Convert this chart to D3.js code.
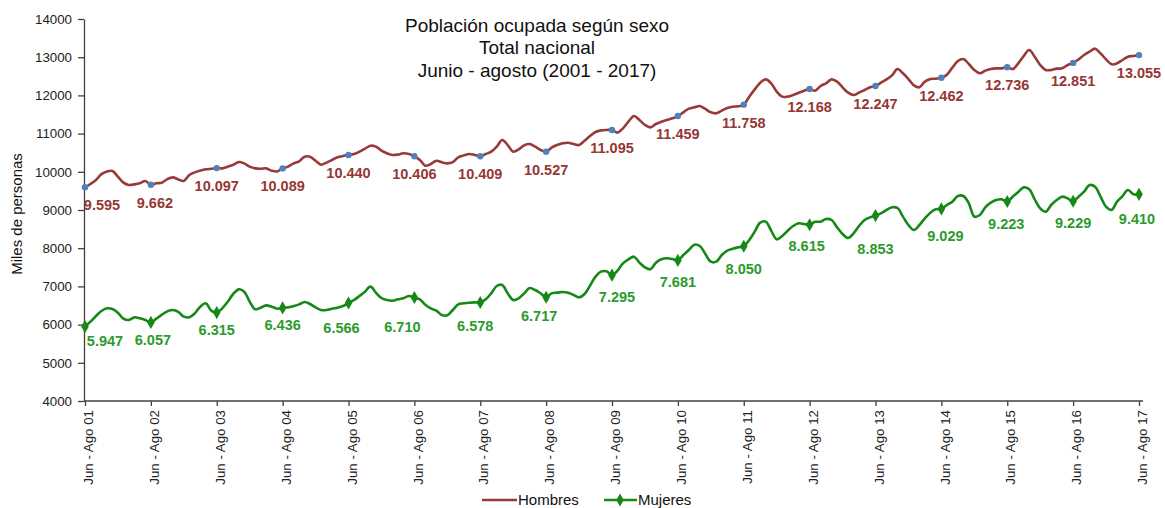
<!DOCTYPE html>
<html lang="es">
<head>
<meta charset="UTF-8">
<title>Población ocupada según sexo</title>
<script src="https://cdn.jsdelivr.net/npm/d3@7"></script>
<style>
    body { margin: 0; background: #fff; }
    svg { font-family: "Liberation Sans", Arial, sans-serif; }
    .axis path, .axis line { stroke: #404040; stroke-width: 1.3px; }
    .axis text { fill: #222; font-size: 13.3px; }
</style>
</head>
<body>
<div id="chart"></div>
<script>
// etiquetas del eje x (un trimestre movil jun-ago por año)
const tickLabels = ["Jun - Ago 01", "Jun - Ago 02", "Jun - Ago 03", "Jun - Ago 04", "Jun - Ago 05",
    "Jun - Ago 06", "Jun - Ago 07", "Jun - Ago 08", "Jun - Ago 09", "Jun - Ago 10", "Jun - Ago 11",
    "Jun - Ago 12", "Jun - Ago 13", "Jun - Ago 14", "Jun - Ago 15", "Jun - Ago 16", "Jun - Ago 17"];

const yTicks = [4000, 5000, 6000, 7000, 8000, 9000, 10000, 11000, 12000, 13000, 14000];

// miles de personas, trimestres moviles mensuales desde jun-ago 2001
const hombres = [
    9595, 9680, 9785, 9940, 10010, 10020, 9870, 9715, 9655, 9670, 9700, 9760,
    9662, 9700, 9715, 9810, 9855, 9800, 9760, 9915, 9985, 10030, 10065, 10080,
    10097, 10090, 10135, 10185, 10255, 10220, 10135, 10090, 10080, 10090, 10030, 10010,
    10089, 10135, 10220, 10275, 10395, 10395, 10290, 10185, 10240, 10310, 10380, 10415,
    10440, 10466, 10527, 10605, 10684, 10658, 10553, 10484, 10440, 10450, 10484, 10466,
    10406, 10310, 10160, 10205, 10290, 10250, 10220, 10255, 10380, 10430, 10466, 10440,
    10409, 10466, 10527, 10658, 10832, 10700, 10527, 10588, 10693, 10728, 10658, 10570,
    10527, 10632, 10700, 10745, 10762, 10728, 10700, 10815, 10937, 11042, 11085, 11095,
    11095, 11025, 11138, 11312, 11461, 11356, 11225, 11164, 11251, 11312, 11356, 11400,
    11459, 11557, 11653, 11688, 11723, 11644, 11557, 11531, 11600, 11670, 11705, 11714,
    11758, 11967, 12159, 12333, 12420, 12316, 12098, 11967, 11967, 12010, 12071, 12124,
    12168, 12124, 12246, 12316, 12420, 12360, 12211, 12071, 12010, 12071, 12141, 12211,
    12247, 12333, 12420, 12525, 12690, 12578, 12429, 12263, 12211, 12360, 12429, 12438,
    12462, 12543, 12726, 12900, 12953, 12822, 12665, 12578, 12648, 12690, 12708, 12708,
    12736, 12690, 12839, 13031, 13188, 13014, 12796, 12665, 12665, 12700, 12708, 12796,
    12851, 12944, 13057, 13145, 13223, 13100, 12944, 12813, 12840, 12927, 13014, 13031,
    13055
];

const mujeres = [
    5947, 6077, 6225, 6356, 6426, 6408, 6312, 6155, 6120, 6190, 6164, 6120,
    6057, 6155, 6260, 6347, 6382, 6330, 6208, 6190, 6295, 6470, 6557, 6365,
    6315, 6426, 6600, 6801, 6923, 6862, 6600, 6400, 6443, 6504, 6470, 6417,
    6436, 6452, 6487, 6530, 6592, 6539, 6452, 6382, 6382, 6417, 6443, 6487,
    6566, 6644, 6749, 6862, 6993, 6836, 6696, 6644, 6626, 6661, 6688, 6749,
    6710, 6661, 6522, 6426, 6365, 6251, 6243, 6382, 6530, 6557, 6574, 6583,
    6578, 6661, 6818, 7010, 7037, 6818, 6644, 6688, 6818, 6958, 6906, 6818,
    6717, 6818, 6836, 6853, 6836, 6775, 6714, 6801, 7019, 7255, 7386, 7394,
    7295, 7412, 7604, 7709, 7778, 7621, 7499, 7447, 7621, 7709, 7735, 7717,
    7681, 7822, 7953, 8093, 8058, 7848, 7647, 7647, 7822, 7935, 7988, 8023,
    8050, 8215, 8433, 8668, 8695, 8459, 8232, 8319, 8459, 8581, 8651, 8633,
    8615, 8690, 8695, 8764, 8738, 8546, 8372, 8267, 8389, 8581, 8738, 8808,
    8853, 8913, 9000, 9070, 9052, 8826, 8607, 8476, 8607, 8782, 8930, 9017,
    9029, 9131, 9218, 9366, 9366, 9175, 8826, 8869, 9070, 9192, 9262, 9279,
    9223, 9349, 9471, 9593, 9541, 9279, 9044, 8956, 9131, 9262, 9349, 9305,
    9229, 9349, 9480, 9654, 9610, 9349, 9087, 9000, 9218, 9366, 9523, 9410,
    9410
];

// ajuste de posicion de las etiquetas (px), como quedaron en el original
const hLabelDx = [17, 4, 0, 0, 0, 0, 0, 0, 0, 0, 0, 0, 0, 0, 0, 0, 0];
const mLabelDx = [20, 2, 0, 0, -7, -12, -5, -7, 5, 0, 0, -3, 0, 4, -1, 0, -2];
const mLabelDy = [14, 18, 17, 17, 25, 29, 23, 19, 22, 22, 23, 21, 33, 27, 22, 22, 25];

const W = 1165, H = 508;
const colH = "#983b38", colHLabel = "#953735", colHMark = "#4f81bd";
const colM = "#168816", colMLabel = "#2c9a2c";

const svg = d3.select("#chart").append("svg")
    .attr("width", W)
    .attr("height", H);

const x = d3.scaleLinear().domain([0, hombres.length - 1]).range([85, 1139]);
const y = d3.scaleLinear().domain([4000, 14000]).range([401, 19]);

// ejes
svg.append("g")
    .attr("class", "axis")
    .attr("transform", "translate(84,0)")
    .call(d3.axisLeft(y).tickValues(yTicks).tickSize(6).tickSizeOuter(0).tickPadding(6).tickFormat(d3.format("d")));

const xAxis = svg.append("g")
    .attr("class", "axis")
    .attr("transform", "translate(0,401)")
    .call(d3.axisBottom(x).tickValues(d3.range(0, hombres.length, 12)).tickSize(5).tickSizeOuter(0)
        .tickFormat((d, i) => tickLabels[i]));
xAxis.select(".domain").attr("d", "M84,0H1143");
xAxis.selectAll("text")
    .attr("text-anchor", "end")
    .attr("transform", "translate(3,9) rotate(-90)")
    .attr("x", 0).attr("y", 0).attr("dy", "0.35em");

// titulo eje y
svg.append("text")
    .attr("transform", "translate(17,214) rotate(-90)")
    .attr("text-anchor", "middle")
    .attr("dy", "0.35em")
    .style("font-size", "15px")
    .style("fill", "#111")
    .text("Miles de personas");

// titulo
const titulo = ["Población ocupada según sexo", "Total nacional", "Junio - agosto (2001 - 2017)"];
svg.append("g").selectAll("text")
    .data(titulo)
    .enter()
    .append("text")
    .attr("x", 537)
    .attr("y", (d, i) => 25 + i * 22.5)
    .attr("dy", "0.35em")
    .attr("text-anchor", "middle")
    .style("font-size", "19px")
    .style("fill", "#111")
    .text(d => d);

const line = d3.line()
    .x((d, i) => x(i))
    .y(d => y(d))
    .curve(d3.curveCatmullRom.alpha(0.5));

svg.append("path")
    .datum(hombres)
    .attr("fill", "none")
    .attr("stroke", colH)
    .attr("stroke-width", 2.6)
    .attr("d", line);

svg.append("path")
    .datum(mujeres)
    .attr("fill", "none")
    .attr("stroke", colM)
    .attr("stroke-width", 2.6)
    .attr("d", line);

const anual = d3.range(0, hombres.length, 12);
const fmt = v => d3.format(",")(v).replace(",", ".");

// marcadores y etiquetas hombres
svg.append("g").selectAll("circle")
    .data(anual)
    .enter()
    .append("circle")
    .attr("cx", i => x(i))
    .attr("cy", i => y(hombres[i]))
    .attr("r", 3.2)
    .attr("fill", colHMark);

svg.append("g").selectAll("text")
    .data(anual)
    .enter()
    .append("text")
    .attr("x", (i, k) => x(i) + hLabelDx[k])
    .attr("y", i => y(hombres[i]) + 18)
    .attr("dy", "0.35em")
    .attr("text-anchor", "middle")
    .style("font-size", "14.5px")
    .style("font-weight", "bold")
    .style("fill", colHLabel)
    .text(i => fmt(hombres[i]));

// marcadores y etiquetas mujeres
const diamond = d3.symbol().type(d3.symbolDiamond).size(50);
svg.append("g").selectAll("path")
    .data(anual)
    .enter()
    .append("path")
    .attr("transform", i => `translate(${x(i)},${y(mujeres[i])})`)
    .attr("d", diamond)
    .attr("fill", colM);

svg.append("g").selectAll("text")
    .data(anual)
    .enter()
    .append("text")
    .attr("x", (i, k) => x(i) + mLabelDx[k])
    .attr("y", (i, k) => y(mujeres[i]) + mLabelDy[k])
    .attr("dy", "0.35em")
    .attr("text-anchor", "middle")
    .style("font-size", "14.5px")
    .style("font-weight", "bold")
    .style("fill", colMLabel)
    .text(i => fmt(mujeres[i]));

// leyenda
const leg = svg.append("g").attr("transform", "translate(0,500)");
leg.append("line").attr("x1", 482).attr("x2", 517).attr("y1", 0).attr("y2", 0)
    .attr("stroke", colH).attr("stroke-width", 2.4);
leg.append("text").attr("x", 518).attr("y", 0).attr("dy", "0.35em")
    .style("font-size", "15px").style("fill", "#111").text("Hombres");
leg.append("line").attr("x1", 604).attr("x2", 637).attr("y1", 0).attr("y2", 0)
    .attr("stroke", colM).attr("stroke-width", 2.4);
leg.append("path").attr("transform", "translate(620,0)").attr("d", diamond).attr("fill", colM);
leg.append("text").attr("x", 638).attr("y", 0).attr("dy", "0.35em")
    .style("font-size", "15px").style("fill", "#111").text("Mujeres");
</script>
</body>
</html>
